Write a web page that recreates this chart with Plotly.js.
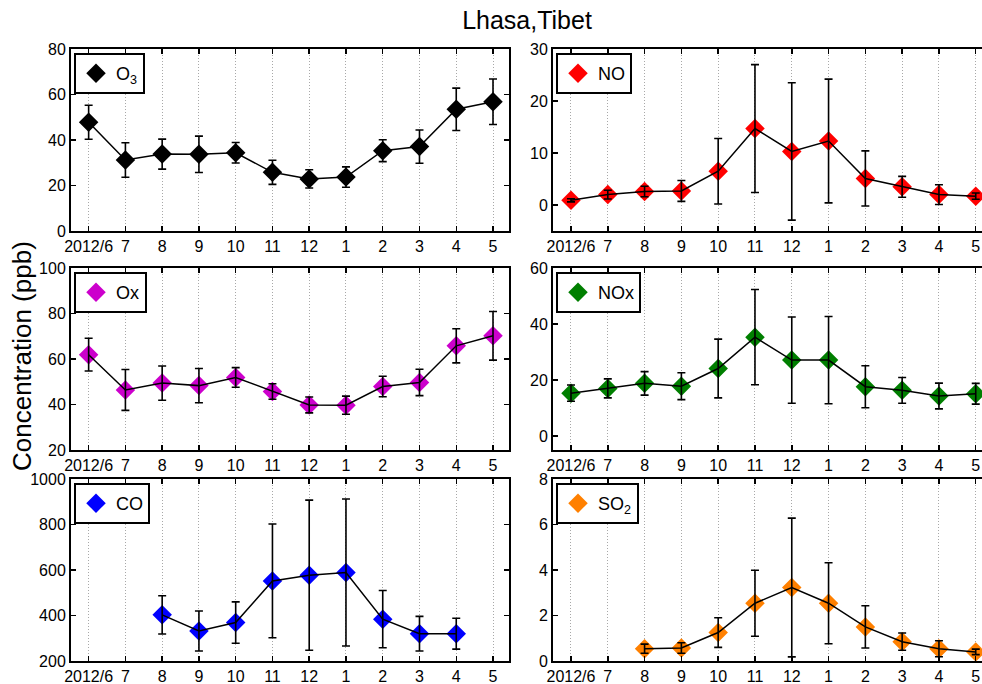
<!DOCTYPE html>
<html>
<head>
<meta charset="utf-8">
<script src="https://cdn.plot.ly/plotly-3.0.1.min.js"></script>
<style>html,body{margin:0;padding:0;background:#fff;}#chart{width:982px;height:684px;}</style>
</head>
<body>
<div id="chart"></div>
<script>
// ---- data ----
const months = ['2012/6','7','8','9','10','11','12','1','2','3','4','5'];
const o3     = [47.8,31.2,33.8,33.7,34.4,25.8,22.9,23.7,35.3,37.1,53.5,56.8];
const o3Err  = [7.5,7.6,6.6,8.0,4.5,5.3,4.0,4.5,4.8,7.3,9.3,10.0];
const no     = [0.9,2.0,2.6,2.7,6.5,14.7,10.3,12.3,5.1,3.5,2.0,1.7];
const noErr  = [0.3,0.85,1.0,2.0,6.3,12.3,13.2,11.9,5.3,2.0,1.9,0.6];
const ox     = [61.9,46.4,49.4,48.3,51.9,45.7,39.8,39.7,47.9,49.7,65.8,70.2];
const oxErr  = [7.2,9.0,7.5,7.5,4.3,3.4,3.5,4.0,4.5,5.8,7.5,10.7];
const nox    = [15.3,17.0,18.8,17.8,24.1,35.3,27.1,27.1,17.6,16.3,14.3,15.1];
const noxErr = [2.9,3.4,4.2,4.8,10.5,17.0,15.4,15.6,7.5,4.6,4.6,3.7];
const co     = [null,null,403,332,369,552,577,589,384,320,320,null];
const coErr  = [null,null,84,88,91,250,330,323,126,76,68,null];
const so2    = [null,null,0.54,0.57,1.25,2.54,3.23,2.54,1.50,0.85,0.54,0.40];
const so2Err = [null,null,0.20,0.23,0.65,1.45,3.05,1.78,0.93,0.38,0.35,0.12];

const seriesNames = ['O<sub>3</sub>','NO','Ox','NOx','CO','SO<sub>2</sub>'];
const seriesVals  = [o3, no, ox, nox, co, so2];
const seriesErrs  = [o3Err, noErr, oxErr, noxErr, coErr, so2Err];
const seriesColors = ['#000000','#FF0000','#CC00CC','#007F00','#0000FF','#FF8000'];
const yRanges = [[0,80],[-5,30],[20,100],[-5,60],[200,1000],[0,8]];
const yTicks  = [[0,20,40,60,80],[0,10,20,30],[20,40,60,80,100],[0,20,40,60],[200,400,600,800,1000],[0,2,4,6,8]];

// ---- layout geometry (px) ----
const W = 982, H = 684;
const colX = [[71,509],[553,982]];
const xRanges = [[-0.48,11.435],[-0.489,11.17]];
const rowY = [[49,231],[268,450],[479,661]];
const FONT = 'Liberation Sans, Arial, Helvetica, sans-serif';

const traces = [];
const layout = {
  width: W, height: H,
  margin: {l:0, r:0, t:0, b:0},
  paper_bgcolor: '#fff', plot_bgcolor: '#fff',
  font: {family: FONT, color: '#000', size: 16},
  showlegend: true,
  title: {text: 'Lhasa,Tibet', font: {family: FONT, size: 25, color: '#000'},
          x: 527/W, xanchor: 'center', y: 1 - 20/H, yanchor: 'middle'},
  annotations: [{
    text: 'Concentration (ppb)', textangle: -90, showarrow: false,
    xref: 'paper', yref: 'paper', x: 22/W, y: 1 - 356/H,
    xanchor: 'center', yanchor: 'middle',
    font: {family: FONT, size: 26, color: '#000'}
  }]
};

for (let i = 0; i < 6; i++) {
  const col = i % 2, row = Math.floor(i / 2);
  const n = i + 1;
  const xa = n === 1 ? 'x' : 'x' + n;
  const ya = n === 1 ? 'y' : 'y' + n;
  const lg = n === 1 ? 'legend' : 'legend' + n;
  const xKey = n === 1 ? 'xaxis' : 'xaxis' + n;
  const yKey = n === 1 ? 'yaxis' : 'yaxis' + n;

  // diamonds (with legend)
  traces.push({
    x: months, y: seriesVals[i], xaxis: xa, yaxis: ya,
    type: 'scatter', mode: 'markers', name: seriesNames[i], legend: lg,
    marker: {symbol: 'diamond', size: 15, color: seriesColors[i], line: {width: 0}},
    cliponaxis: true
  });
  // black line + error bars on top
  traces.push({
    x: months, y: seriesVals[i], xaxis: xa, yaxis: ya,
    type: 'scatter', mode: 'lines', showlegend: false, legend: lg,
    line: {color: '#000', width: 1.5},
    error_y: {type: 'data', array: seriesErrs[i], visible: true,
              color: '#000', thickness: 1.6, width: 4},
    cliponaxis: true
  });

  layout[xKey] = {
    domain: [colX[col][0]/W, colX[col][1]/W],
    anchor: ya, type: 'category', range: xRanges[col],
    showline: true, linecolor: '#000', linewidth: 2, mirror: 'ticks',
    ticks: 'inside', ticklen: 5, tickwidth: 1.5, tickcolor: '#000',
    showgrid: true, gridcolor: '#a8a8a8', griddash: '1px,2px', gridwidth: 1,
    zeroline: false, fixedrange: true,
    tickfont: {family: FONT, size: 16, color: '#000'}
  };
  layout[yKey] = {
    domain: [1 - rowY[row][1]/H, 1 - rowY[row][0]/H],
    anchor: xa, range: yRanges[i], tickvals: yTicks[i],
    showline: true, linecolor: '#000', linewidth: 2,
    mirror: col === 0 ? 'ticks' : false,
    ticks: 'inside', ticklen: 5, tickwidth: 1.5, tickcolor: '#000',
    showgrid: false, zeroline: false, fixedrange: true,
    tickfont: {family: FONT, size: 16, color: '#000'}
  };
  layout[lg] = {
    x: (colX[col][0] + 3)/W, y: 1 - (rowY[row][0] + 4)/H,
    xanchor: 'left', yanchor: 'top',
    bgcolor: '#fff', bordercolor: '#000', borderwidth: 2,
    font: {family: FONT, size: 18, color: '#000'},
    itemwidth: 30, tracegroupgap: 0
  };
}

Plotly.newPlot('chart', traces, layout, {staticPlot: true, displayModeBar: false});
</script>
</body>
</html>
